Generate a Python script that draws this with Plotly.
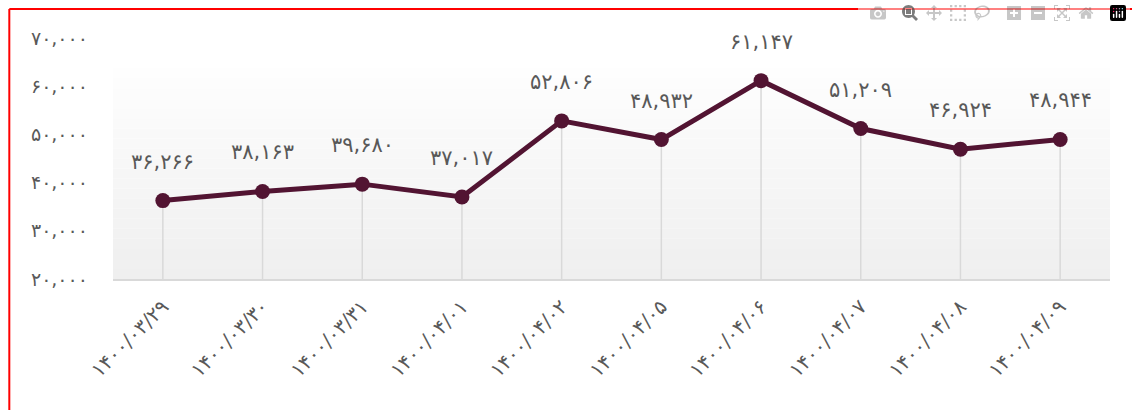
import plotly.graph_objects as go

dates = ["۱۴۰۰/۰۳/۲۹", "۱۴۰۰/۰۳/۳۰", "۱۴۰۰/۰۳/۳۱", "۱۴۰۰/۰۴/۰۱", "۱۴۰۰/۰۴/۰۲",
         "۱۴۰۰/۰۴/۰۵", "۱۴۰۰/۰۴/۰۶", "۱۴۰۰/۰۴/۰۷", "۱۴۰۰/۰۴/۰۸", "۱۴۰۰/۰۴/۰۹"]
values = [36266, 38163, 39680, 37017, 52806, 48932, 61147, 51209, 46924, 48944]
y_ticks = [20000, 30000, 40000, 50000, 60000, 70000]
y_base = 20000

FA_DIGITS = str.maketrans("0123456789", "۰۱۲۳۴۵۶۷۸۹")


def fa(n):
    return f"{n:,}".translate(FA_DIGITS)


FONT = "DejaVu Sans"
GREY = "#595959"
LINE = "#521432"

fig = go.Figure()

fig.add_trace(go.Scatter(
    x=dates,
    y=values,
    mode="lines+markers",
    line=dict(color=LINE, width=5),
    marker=dict(color=LINE, size=15),
    error_y=dict(
        type="data",
        symmetric=False,
        array=[0] * len(values),
        arrayminus=[v - y_base for v in values],
        color="#d9d9d9",
        thickness=1.5,
        width=0
    ),
    hoverinfo="skip"
))

for d, v in zip(dates, values):
    fig.add_annotation(
        x=d, y=v, text=fa(v), showarrow=False,
        yshift=39, font=dict(family=FONT, size=21, color=GREY)
    )

# background gradient of the plot area
steps = 24
for i in range(steps):
    y0 = i / steps
    y1 = (i + 1) / steps
    if y1 > 0.9:
        c = 255
    else:
        c = round(239 + 16 * (y0 / 0.9))
    fig.add_shape(
        type="rect", xref="paper", yref="paper",
        x0=0, x1=1, y0=y0, y1=y1,
        fillcolor=f"rgb({c},{c},{c})", line=dict(width=0), layer="below"
    )

# red frame: left edge and top edge, running off the figure
fig.add_shape(
    type="line", xref="paper", yref="paper",
    x0=-0.104, x1=-0.104, y0=-0.6, y1=1.12,
    line=dict(color="#ff0000", width=2)
)
fig.add_shape(
    type="line", xref="paper", yref="paper",
    x0=-0.104, x1=1.05, y0=1.12, y1=1.12,
    line=dict(color="#ff0000", width=2)
)

fig.update_layout(
    width=1132,
    height=410,
    margin=dict(l=113, r=22, t=38, b=131),
    paper_bgcolor="white",
    plot_bgcolor="rgba(0,0,0,0)",
    showlegend=False,
    font=dict(family=FONT, color=GREY),
    xaxis=dict(
        type="category",
        range=[-0.5, len(dates) - 0.5],
        tickangle=-45,
        tickfont=dict(family=FONT, size=20, color=GREY),
        showgrid=False,
        showline=True,
        linecolor="#d9d9d9",
        linewidth=2,
        ticks="",
        ticklabelstandoff=6
    ),
    yaxis=dict(
        range=[20000, 70000],
        tickvals=y_ticks,
        ticktext=[fa(t) for t in y_ticks],
        tickfont=dict(family=FONT, size=19, color=GREY),
        showgrid=False,
        zeroline=False,
        ticks="",
        ticklabelstandoff=24
    )
)

# no page margin and no scrollbars, so the figure fills the window exactly
fig.write_html(
    "out.html",
    post_script="document.body.style.margin='0';"
                "document.documentElement.style.overflow='hidden';"
                "document.body.style.overflow='hidden';"
)
